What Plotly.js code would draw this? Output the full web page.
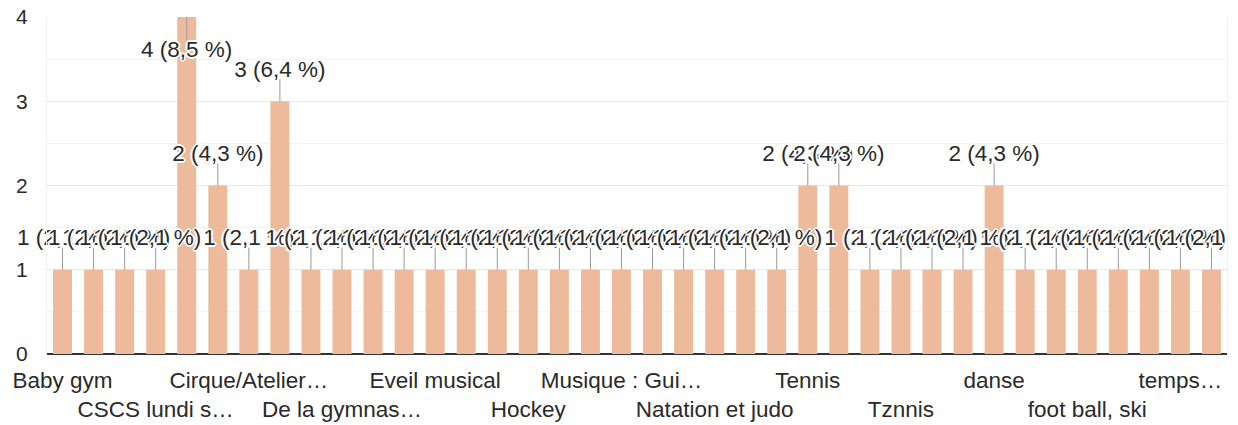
<!DOCTYPE html>
<html>
<head>
<meta charset="utf-8">
<script src="https://cdn.plot.ly/plotly-3.0.1.min.js"></script>
<style>
  html, body { margin: 0; padding: 0; background: #fff; }
  #chart { width: 1238px; height: 425px; }
</style>
</head>
<body>
<div id="chart"></div>
<script>
// Categories (only every third one is labelled in the reference)
const categories = [
  "Baby gym", "Badminton", "Basket", "CSCS lundi soir", "Cirque",
  "Cirque et danse", "Cirque/Atelier théâtre", "Danse", "Dessin", "De la gymnastique",
  "Escalade", "Equitation", "Eveil musical", "Football", "Gymnastique",
  "Hockey", "Judo", "Karaté", "Musique : Guitare", "Musique : Piano",
  "Natation", "Natation et judo", "Piscine", "Rugby", "Tennis",
  "Théâtre", "Tir à l'arc", "Tznnis", "Volley", "aucune",
  "danse", "escalade", "foot", "foot ball, ski", "judo",
  "natation", "temps libre", "tennis"
];
const counts = [
  1, 1, 1, 1, 4,
  2, 1, 3, 1, 1,
  1, 1, 1, 1, 1,
  1, 1, 1, 1, 1,
  1, 1, 1, 1, 2,
  2, 1, 1, 1, 1,
  2, 1, 1, 1, 1,
  1, 1, 1
];
// Visible tick labels (truncated as in the reference)
const tickCategories = [
  "Baby gym", "CSCS lundi soir", "Cirque/Atelier théâtre", "De la gymnastique",
  "Eveil musical", "Hockey", "Musique : Guitare", "Natation et judo",
  "Tennis", "Tznnis", "danse", "foot ball, ski", "temps libre"
];
const tickLabels = [
  "Baby gym", "CSCS lundi s…", "Cirque/Atelier…", "De la gymnas…",
  "Eveil musical", "Hockey", "Musique : Gui…", "Natation et judo",
  "Tennis", "Tznnis", "danse", "foot ball, ski", "temps…"
];

const total = counts.reduce((a, b) => a + b, 0);
const ymax = 4;
const FONT = 'Arial, "Liberation Sans", sans-serif';
const TEXT = '#2a2a2a';
const halo = '1px 0 0 #fff, -1px 0 0 #fff, 0 1px 0 #fff, 0 -1px 0 #fff, 1px 1px 0 #fff, -1px -1px 0 #fff, 1px -1px 0 #fff, -1px 1px 0 #fff, 2px 0 0 #fff, -2px 0 0 #fff, 0 2px 0 #fff, 0 -2px 0 #fff';

// plot geometry
const W = 1238, H = 425;
const M = { l: 47, r: 11, t: 17, b: 71 };
const pxPerUnit = (H - M.t - M.b) / ymax;
const labelGap = 30;   // px between bar top and label centre
const stemLen = 22;    // px

const ticktext = tickLabels.map((t, i) => (i % 2 === 1 ? '<br>' + t : t));

const labelText = counts.map(v => v + ' (' + (v / total * 100).toFixed(1).replace('.', ',') + ' %)');
const labelY = counts.map(v => v >= ymax ? v - (labelGap + 4) / pxPerUnit : v + labelGap / pxPerUnit);

const data = [
  {
    type: 'bar',
    x: categories,
    y: counts,
    marker: { color: '#EEBA9C' },
    hoverinfo: 'none'
  },
  {
    type: 'scatter',
    mode: 'text',
    x: categories,
    y: labelY,
    text: labelText,
    textposition: 'middle center',
    textfont: { family: FONT, size: 22.5, color: TEXT, shadow: halo },
    cliponaxis: false,
    hoverinfo: 'none'
  }
];

const shapes = counts.map((v, i) => ({
  type: 'line', layer: 'above',
  xref: 'x', yref: 'y',
  x0: i, x1: i,
  ysizemode: 'pixel', yanchor: v,
  y0: 0, y1: v >= ymax ? -(stemLen + 1) : stemLen,
  line: { color: '#999', width: 1 }
}));
// labels are clipped at the right edge of the chart area (as in the reference)
shapes.push({
  type: 'rect', layer: 'above',
  xref: 'paper', yref: 'paper',
  x0: 1.0015, x1: 1.03, y0: 0.05, y1: 1,
  fillcolor: '#fff', line: { width: 0 }
});

const layout = {
  width: W, height: H,
  margin: M,
  paper_bgcolor: '#fff', plot_bgcolor: '#fff',
  bargap: 0.39,
  showlegend: false,
  font: { family: FONT, size: 21, color: TEXT },
  xaxis: {
    type: 'category',
    range: [-0.5, categories.length - 0.5],
    tickmode: 'array',
    tickvals: tickCategories,
    ticktext: ticktext,
    tickangle: 0,
    showgrid: false,
    ticks: '',
    showline: false,
    zeroline: false,
    ticklabelstandoff: 10,
    tickfont: { family: FONT, size: 22.5, color: TEXT },
    automargin: false
  },
  yaxis: {
    range: [0, ymax],
    dtick: 1,
    tick0: 0,
    showgrid: true,
    gridcolor: '#e8e8e8',
    gridwidth: 1,
    minor: { dtick: 0.5, showgrid: true, gridcolor: '#f4f4f4', gridwidth: 1 },
    zeroline: true, zerolinecolor: '#333', zerolinewidth: 2,
    showline: true, mirror: true, linecolor: '#f0f0f0', linewidth: 1,
    ticks: '',
    ticklabelstandoff: 14,
    tickfont: { family: FONT, size: 21, color: TEXT },
    automargin: false,
    fixedrange: true
  },
  shapes: shapes
};

Plotly.newPlot('chart', data, layout, { displayModeBar: false, staticPlot: true });
</script>
</body>
</html>
